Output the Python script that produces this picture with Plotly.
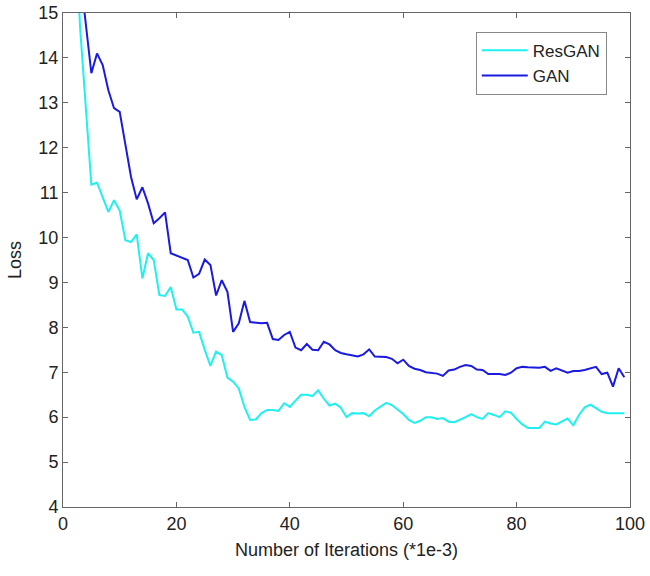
import plotly.graph_objects as go

iterations = list(range(1, 100))

resgan_loss = [21.0, 17.5, 14.7, 12.9, 11.18, 11.22, 10.9, 10.57, 10.83, 10.6,
               9.94, 9.9, 10.07, 9.09, 9.65, 9.5, 8.72, 8.7, 8.9, 8.4,
               8.4, 8.24, 7.88, 7.9, 7.5, 7.14, 7.46, 7.38, 6.88, 6.79,
               6.64, 6.23, 5.94, 5.95, 6.09, 6.16, 6.16, 6.14, 6.31, 6.23,
               6.37, 6.5, 6.5, 6.47, 6.6, 6.41, 6.26, 6.3, 6.21, 6.0,
               6.09, 6.08, 6.09, 6.02, 6.15, 6.23, 6.32, 6.27, 6.17, 6.07,
               5.94, 5.87, 5.92, 6.0, 6.0, 5.96, 5.98, 5.9, 5.89, 5.94,
               6.0, 6.07, 6.0, 5.96, 6.09, 6.05, 6.0, 6.13, 6.1, 5.96,
               5.84, 5.76, 5.76, 5.76, 5.9, 5.86, 5.84, 5.9, 5.97, 5.82,
               6.05, 6.22, 6.28, 6.2, 6.12, 6.09, 6.09, 6.09, 6.09]

gan_loss = [19.0, 17.0, 15.9, 14.8, 13.66, 14.1, 13.84, 13.28, 12.88, 12.8,
            12.1, 11.35, 10.85, 11.12, 10.76, 10.32, 10.43, 10.56, 9.65, 9.6,
            9.54, 9.5, 9.11, 9.19, 9.51, 9.39, 8.71, 9.05, 8.79, 7.9,
            8.09, 8.59, 8.12, 8.11, 8.09, 8.1, 7.74, 7.72, 7.83, 7.9,
            7.55, 7.49, 7.63, 7.5, 7.49, 7.68, 7.62, 7.49, 7.43, 7.4,
            7.38, 7.35, 7.4, 7.51, 7.35, 7.34, 7.34, 7.3, 7.2, 7.28,
            7.14, 7.08, 7.05, 7.0, 6.98, 6.97, 6.92, 7.04, 7.06, 7.12,
            7.16, 7.14, 7.06, 7.05, 6.96, 6.96, 6.96, 6.94, 6.99, 7.09,
            7.12, 7.11, 7.11, 7.1, 7.12, 7.03, 7.09, 7.04, 6.99, 7.03,
            7.03, 7.05, 7.09, 7.12, 6.96, 6.99, 6.68, 7.09, 6.89]

x_ticks = [0, 20, 40, 60, 80, 100]
y_ticks = [4, 5, 6, 7, 8, 9, 10, 11, 12, 13, 14, 15]

font_family = "Liberation Sans, Arial, sans-serif"

fig = go.Figure()
fig.add_trace(go.Scatter(x=iterations, y=resgan_loss, mode="lines", name="ResGAN",
                         line=dict(color="#1ff0f0", width=2)))
fig.add_trace(go.Scatter(x=iterations, y=gan_loss, mode="lines", name="GAN",
                         line=dict(color="#1a1ae0", width=2)))

axis_common = dict(showline=True, linecolor="#666666", linewidth=1, mirror="ticks",
                   ticks="inside", ticklen=5, tickcolor="#666666", showgrid=False,
                   zeroline=False, automargin=False,
                   tickfont=dict(family=font_family, size=18, color="#222222"))

fig.update_layout(
    width=650, height=576,
    margin=dict(l=63, r=20, t=13, b=69),
    paper_bgcolor="white", plot_bgcolor="white",
    font=dict(family=font_family, color="#222222"),
    xaxis=dict(range=[0, 100], tickvals=x_ticks,
               title=dict(text="Number of Iterations (*1e-3)", font=dict(size=18), standoff=10),
               **axis_common),
    yaxis=dict(range=[4, 15], tickvals=y_ticks,
               title=dict(text="Loss", font=dict(size=18), standoff=12),
               **axis_common),
    legend=dict(x=0.728, y=0.962, xanchor="left", yanchor="top",
                bgcolor="white", bordercolor="#888888", borderwidth=1,
                font=dict(size=17, family=font_family, color="#222222"),
                tracegroupgap=0, itemwidth=46),
    showlegend=True,
)

# Remove the default page margin so the 650x576 figure fills the window exactly.
fig.write_html("out.html",
               config={"displayModeBar": False},
               post_script="document.body.style.margin='0';document.body.style.overflow='hidden';")
